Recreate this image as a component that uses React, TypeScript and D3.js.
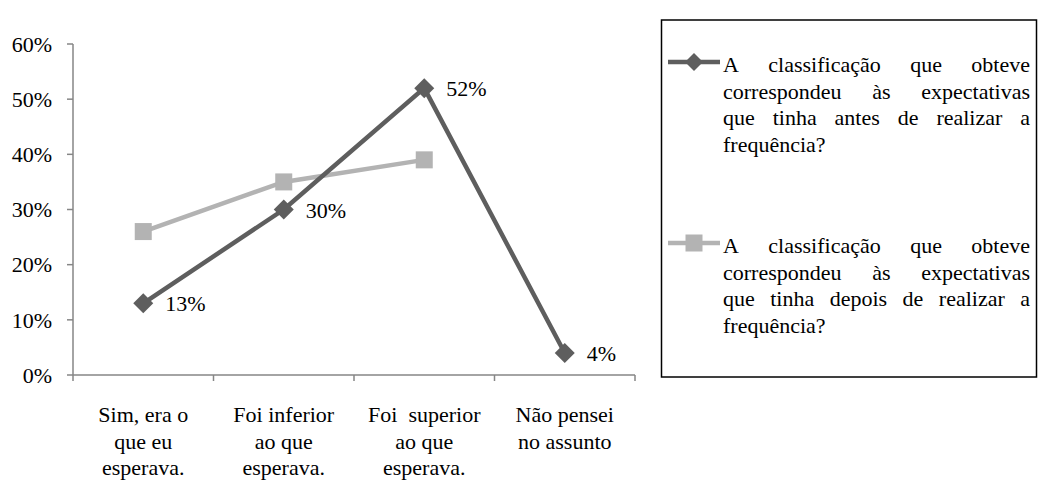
import React, { useLayoutEffect, useRef } from 'react';
import * as d3 from 'd3';

const width = 1039;
const height = 485;

const categories = [
  ['Sim, era o', 'que eu', 'esperava.'],
  ['Foi inferior', 'ao que', 'esperava.'],
  ['Foi  superior', 'ao que', 'esperava.'],
  ['Não pensei', 'no assunto'],
];
const antes = [13, 30, 52, 4];
const depois: (number | null)[] = [26, 35, 39, null];
const yTicks = [0, 10, 20, 30, 40, 50, 60];

const legendAntes = [
  'A classificação que obteve',
  'correspondeu às expectativas',
  'que tinha antes de realizar a',
  'frequência?',
];
const legendDepois = [
  'A classificação que obteve',
  'correspondeu às expectativas',
  'que tinha depois de realizar a',
  'frequência?',
];

// font is set at 24px and scaled down to ~22px on screen
const baseFs = 24;
const k = 22 / 24;
const lineH = 26.7;
const dark = '#5e5e5e';
const light = '#b3b3b3';
const axisColor = '#868686';
const txt = { fontFamily: "'Liberation Serif'", fontSize: baseFs, fill: '#000' };

const textLeft = 723;
const textRight = 1030;

const diamond = (cx: number, cy: number, r: number) =>
  `M${cx},${cy - r}L${cx + r},${cy}L${cx},${cy + r}L${cx - r},${cy}Z`;

const Label = ({ x, y, anchor = 'start', dy = '0', children }) => (
  <g transform={`translate(${x},${y}) scale(${k})`}>
    <text textAnchor={anchor} dy={dy} style={{ ...txt, whiteSpace: 'pre' }}>{children}</text>
  </g>
);

const LegendEntry = ({ lines, y, color, marker }) => (
  <g>
    <line x1={668} x2={720} y1={y} y2={y} stroke={color} strokeWidth={4.5} />
    {marker === 'diamond' ? (
      <path d={diamond(694, y, 9)} fill={color} />
    ) : (
      <rect x={694 - 8.5} y={y - 8.5} width={17} height={17} fill={color} />
    )}
    {lines.map((line, i) => (
      <g key={i} transform={`translate(${textLeft},${y + 10 + i * lineH}) scale(${k})`}>
        <text className={i === lines.length - 1 ? 'jline last' : 'jline'} style={txt}>
          {line.split(' ').map((w, j) => (
            <tspan key={j} x={0}>{w}</tspan>
          ))}
        </text>
      </g>
    ))}
  </g>
);

export default function App() {
  const ref = useRef<SVGSVGElement>(null);
  const idx = categories.map((_, i) => i);
  const x = d3.scaleBand<number>().domain(idx).range([73, 635]);
  const y = d3.scaleLinear().domain([0, 60]).range([375, 44]);
  const cx = (i: number) => (x(i) as number) + x.bandwidth() / 2;

  const line = d3
    .line<number | null>()
    .defined(d => d != null)
    .x((_, i) => cx(i))
    .y(d => y(d as number));

  // justify legend lines (local, unscaled units)
  useLayoutEffect(() => {
    const avail = (textRight - textLeft) / k;
    d3.select(ref.current)
      .selectAll<SVGTextElement, unknown>('text.jline')
      .each(function () {
        const spans = d3.select(this).selectAll<SVGTSpanElement, unknown>('tspan').nodes();
        const widths = spans.map(s => s.getComputedTextLength());
        const space = this.classList.contains('last')
          ? baseFs * 0.25
          : (avail - d3.sum(widths)) / Math.max(1, spans.length - 1);
        let xx = 0;
        spans.forEach((s, i) => {
          s.setAttribute('x', String(xx));
          xx += widths[i] + space;
        });
      });
  }, []);

  return (
    <svg ref={ref} width={width} height={height} style={{ position: 'absolute', left: 0, top: 0, background: '#fff' }}>
      {/* y axis */}
      <line x1={73} x2={73} y1={y(60)} y2={y(0)} stroke={axisColor} strokeWidth={1.5} />
      {yTicks.map(t => (
        <g key={t}>
          <line x1={67} x2={73} y1={y(t)} y2={y(t)} stroke={axisColor} strokeWidth={1.5} />
          <Label x={52} y={y(t)} anchor="end" dy="0.35em">{t}%</Label>
        </g>
      ))}
      {/* x axis */}
      <line x1={73} x2={635} y1={y(0)} y2={y(0)} stroke={axisColor} strokeWidth={1.5} />
      {[...idx, idx.length].map(i => {
        const xx = i < idx.length ? (x(i) as number) : 635;
        return <line key={i} x1={xx} x2={xx} y1={y(0)} y2={y(0) + 6} stroke={axisColor} strokeWidth={1.5} />;
      })}
      {categories.map((lines, i) =>
        lines.map((l, j) => (
          <Label key={`${i}-${j}`} x={cx(i)} y={422 + j * lineH} anchor="middle">{l}</Label>
        ))
      )}

      {/* series */}
      <path d={line(depois) || ''} fill="none" stroke={light} strokeWidth={4.5} />
      {depois.map((d, i) =>
        d == null ? null : (
          <rect key={i} x={cx(i) - 8.5} y={y(d) - 8.5} width={17} height={17} fill={light} />
        )
      )}
      <path d={line(antes) || ''} fill="none" stroke={dark} strokeWidth={4.5} />
      {antes.map((d, i) => (
        <g key={i}>
          <path d={diamond(cx(i), y(d), 10)} fill={dark} />
          <Label x={cx(i) + 22} y={y(d) + 8}>{d}%</Label>
        </g>
      ))}

      {/* legend */}
      <rect x={661.5} y={20} width={375} height={357} fill="none" stroke="#000" strokeWidth={1.5} />
      <LegendEntry lines={legendAntes} y={62} color={dark} marker="diamond" />
      <LegendEntry lines={legendDepois} y={243} color={light} marker="square" />
    </svg>
  );
}
